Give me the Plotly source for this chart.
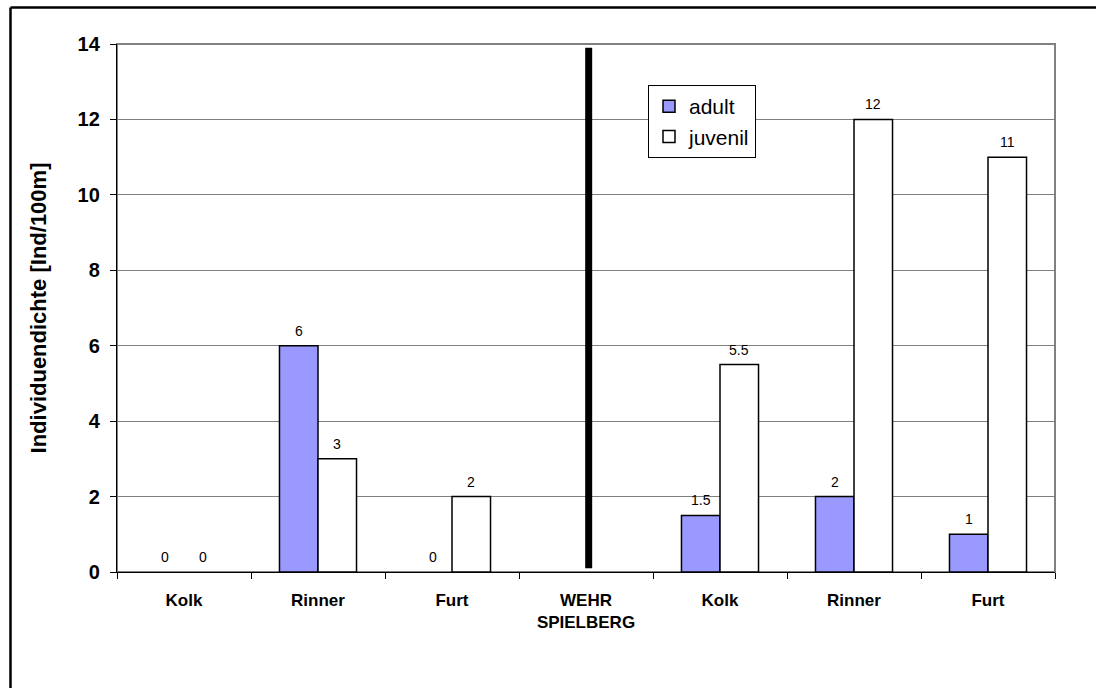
import plotly.graph_objects as go

# Sampling sites along the river, upstream and downstream of the weir
categories = ["Kolk", "Rinner", "Furt", "WEHR<br>SPIELBERG", "Kolk", "Rinner", "Furt"]
adult = [0, 6, 0, None, 1.5, 2, 1]
juvenil = [0, 3, 2, None, 5.5, 12, 11]
y_ticks = [0, 2, 4, 6, 8, 10, 12, 14]
weir_index = 3

FONT = "Arial, Liberation Sans, sans-serif"
W, H = 1096, 688
ML, MR, MT, MB = 117, 41, 44, 116
PW, PH = W - ML - MR, H - MT - MB

ADULT_COLOR = "#9999FF"
JUV_COLOR = "white"

x_pos = list(range(len(categories)))


def outline_widths(series):
    # empty (zero) bars get no outline so the baseline stays clean
    return [0 if (v is None or v == 0) else 1.5 for v in series]


fig = go.Figure()
fig.add_trace(go.Bar(
    x=x_pos, y=adult, name="adult", showlegend=False, offsetgroup="adult",
    marker=dict(color=ADULT_COLOR, line=dict(color="black", width=outline_widths(adult))),
))
fig.add_trace(go.Bar(
    x=x_pos, y=juvenil, name="juvenil", showlegend=False, offsetgroup="juvenil",
    marker=dict(color=JUV_COLOR, line=dict(color="black", width=outline_widths(juvenil))),
))
# legend entries with a uniform outline
for name, color in (("adult", ADULT_COLOR), ("juvenil", JUV_COLOR)):
    fig.add_trace(go.Bar(
        x=[None], y=[None], name=name, offsetgroup=name,
        marker=dict(color=color, line=dict(color="black", width=1.5)),
    ))

bargap = 0.425
bar_w = (1 - bargap) / 2

# value labels above each bar
annotations = []
for series, off in ((adult, -bar_w / 2), (juvenil, bar_w / 2)):
    for xi, v in zip(x_pos, series):
        if v is None:
            continue
        annotations.append(dict(
            x=xi + off, y=v, xref="x", yref="y", text=f"{v:g}",
            showarrow=False, yanchor="bottom", yshift=5,
            font=dict(family=FONT, size=14, color="black"),
        ))


def px_to_paper_x(px):
    return (px - ML) / PW


def px_to_paper_y(py):
    return (H - MB - py) / PH


shapes = [
    # grey plot-area frame
    dict(type="rect", xref="paper", yref="paper", x0=0, x1=1, y0=0, y1=1,
         line=dict(color="#808080", width=2), layer="below"),
    # weir marker
    dict(type="line", xref="x", yref="y", x0=weir_index + 0.02, x1=weir_index + 0.02,
         y0=0.1, y1=13.9, line=dict(color="black", width=7)),
    # outer chart border (left and top edges)
    dict(type="line", xref="paper", yref="paper",
         x0=px_to_paper_x(10.5), x1=px_to_paper_x(10.5),
         y0=px_to_paper_y(7.5), y1=px_to_paper_y(720),
         line=dict(color="black", width=2.5)),
    dict(type="line", xref="paper", yref="paper",
         x0=px_to_paper_x(10.5), x1=px_to_paper_x(1120),
         y0=px_to_paper_y(7.5), y1=px_to_paper_y(7.5),
         line=dict(color="black", width=2.5)),
]

fig.update_layout(
    width=W, height=H,
    margin=dict(l=ML, r=MR, t=MT, b=MB, pad=0),
    paper_bgcolor="white", plot_bgcolor="white",
    barmode="group", bargap=bargap, bargroupgap=0,
    font=dict(family=FONT, color="black"),
    showlegend=True,
    legend=dict(
        x=px_to_paper_x(648), y=px_to_paper_y(85), xanchor="left", yanchor="top",
        bordercolor="black", borderwidth=1, bgcolor="white",
        font=dict(family=FONT, size=21, color="black"),
        itemwidth=30, tracegroupgap=0,
    ),
    xaxis=dict(
        range=[-0.5, len(categories) - 0.5],
        tickvals=x_pos, ticktext=[f"<b>{c}</b>" for c in categories],
        ticks="", showgrid=False, zeroline=False,
        showline=True, linecolor="black", linewidth=1.3,
        tickfont=dict(family=FONT, size=17, color="black"),
        ticklabelstandoff=12,
        minor=dict(tickvals=[i - 0.5 for i in range(len(categories) + 1)],
                   ticks="outside", ticklen=6, tickcolor="black", tickwidth=1,
                   showgrid=False),
    ),
    yaxis=dict(
        range=[0, 14], tickvals=y_ticks, ticktext=[f"<b>{t}</b>" for t in y_ticks],
        ticks="outside", ticklen=6, tickcolor="black", tickwidth=1,
        showgrid=True, gridcolor="#808080", gridwidth=1, zeroline=False,
        showline=True, linecolor="black", linewidth=1.3,
        tickfont=dict(family=FONT, size=20, color="black"),
        ticklabelstandoff=6,
        title=dict(text="<b>Individuendichte [Ind/100m]</b>",
                   font=dict(family=FONT, size=22, color="black"), standoff=24),
    ),
    shapes=shapes,
    annotations=annotations,
)

fig.write_html("out.html")
